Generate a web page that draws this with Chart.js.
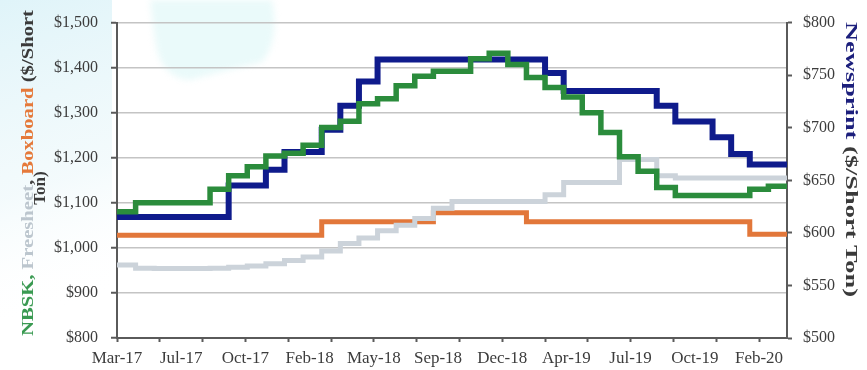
<!DOCTYPE html>
<html>
<head>
<meta charset="utf-8">
<title>NBSK, Freesheet, Boxboard and Newsprint prices</title>
<script src="https://cdn.jsdelivr.net/npm/chart.js@4.4.0/dist/chart.umd.min.js"></script>
<style>
  html, body { margin: 0; padding: 0; background: #fff; }
  #wrap { width: 867px; height: 370px; }
</style>
</head>
<body>
<div id="wrap"><canvas id="priceChart" width="867" height="370"></canvas></div>
<script>
// monthly points, Mar-17 .. Mar-20 (index = months since Mar-17)
const months = ['Mar-17', 'Apr-17', 'May-17', 'Jun-17', 'Jul-17', 'Aug-17', 'Sep-17', 'Oct-17', 'Nov-17', 'Dec-17',
    'Jan-18', 'Feb-18', 'Mar-18', 'Apr-18', 'May-18', 'Jun-18', 'Jul-18', 'Aug-18', 'Sep-18', 'Oct-18', 'Nov-18', 'Dec-18',
    'Jan-19', 'Feb-19', 'Mar-19', 'Apr-19', 'May-19', 'Jun-19', 'Jul-19', 'Aug-19', 'Sep-19', 'Oct-19', 'Nov-19', 'Dec-19',
    'Jan-20', 'Feb-20', 'Mar-20'];

const tickLabels = ['Mar-17', 'Jul-17', 'Oct-17', 'Feb-18', 'May-18', 'Sep-18', 'Dec-18', 'Apr-19', 'Jul-19', 'Oct-19', 'Feb-20'];

// left axis, $/short ton
const nbsk = [1080, 1100, 1100, 1100, 1100, 1130, 1160, 1180, 1204, 1210,
    1228, 1267, 1281, 1320, 1331, 1360, 1381, 1392, 1392, 1420, 1432, 1407,
    1378, 1356, 1335, 1300, 1256, 1202, 1170, 1134, 1116, 1116, 1116, 1116,
    1130, 1137, 1137];
const freesheet = [962, 955, 954, 954, 954, 955, 957, 960, 965, 972,
    980, 993, 1010, 1022, 1038, 1050, 1065, 1088, 1103, 1103, 1103, 1103,
    1103, 1118, 1145, 1145, 1145, 1196, 1196, 1160, 1155, 1155, 1155, 1155,
    1155, 1155, 1155];
const boxboard = [1028, 1028, 1028, 1028, 1028, 1028, 1028, 1028, 1028, 1028,
    1028, 1058, 1058, 1058, 1058, 1058, 1058, 1078, 1078, 1078, 1078, 1078,
    1058, 1058, 1058, 1058, 1058, 1058, 1058, 1058, 1058, 1058, 1058, 1058,
    1030, 1030, 1030];

// right axis, $/short ton
const newsprint = [615, 615, 615, 615, 615, 615, 645, 645, 660, 677,
    677, 698, 721, 744, 765, 765, 765, 765, 765, 765, 765, 765,
    765, 752, 735, 735, 735, 735, 735, 721, 706, 706, 691, 675,
    665, 665, 665];

const weekInMonths = 7 / 30.4375;

function toPoints(values) {
    return values.map((v, i) => ({ x: i, y: v }));
}

const labelFont = { family: 'Liberation Serif', size: 16 };
const axisColor = '#5a5a5a';
const textColor = '#3c3c3c';

// paints the pale backdrop of the original slide
const backdrop = {
    id: 'backdrop',
    beforeDraw(chart) {
        const ctx = chart.ctx;
        ctx.save();
        ctx.fillStyle = '#ffffff';
        ctx.fillRect(0, 0, chart.width, chart.height);
        const g = ctx.createLinearGradient(0, 0, 100, 300);
        g.addColorStop(0, 'rgba(218,242,248,0.85)');
        g.addColorStop(0.6, 'rgba(234,247,250,0.55)');
        g.addColorStop(1, 'rgba(255,255,255,0)');
        ctx.fillStyle = g;
        ctx.fillRect(0, 0, 112, 320);
        ctx.fillStyle = 'rgba(216,246,246,0.55)';
        ctx.filter = 'blur(3px)';
        ctx.beginPath();
        ctx.moveTo(150, 0);
        ctx.lineTo(272, 0);
        ctx.quadraticCurveTo(280, 40, 262, 62);
        ctx.quadraticCurveTo(220, 72, 190, 80);
        ctx.quadraticCurveTo(160, 78, 155, 40);
        ctx.closePath();
        ctx.fill();
        ctx.restore();
    }
};

function drawTitle(ctx, parts, x, y, angle, length, font) {
    ctx.save();
    ctx.font = font;
    ctx.textBaseline = 'alphabetic';
    ctx.textAlign = 'left';
    const total = parts.reduce((s, p) => s + ctx.measureText(p.text).width, 0);
    ctx.translate(x, y);
    ctx.rotate(angle);
    ctx.scale(length ? length / total : 1, 1);
    let pos = length ? 0 : -total / 2;
    parts.forEach(p => {
        ctx.fillStyle = p.color;
        ctx.fillText(p.text, pos, 0);
        pos += ctx.measureText(p.text).width;
    });
    ctx.restore();
}

const axisTitles = {
    id: 'axisTitles',
    afterDraw(chart) {
        const ctx = chart.ctx;
        const font = 'bold 17px "Liberation Serif"';
        drawTitle(ctx, [
            { text: 'NBSK, ', color: '#3a9a52' },
            { text: 'Freesheet', color: '#bcc6ce' },
            { text: ', ', color: '#444' },
            { text: 'Boxboard', color: '#e5793a' },
            { text: ' ($/Short', color: '#3a3a3a' }
        ], 33, 336, -Math.PI / 2, 326, font);
        drawTitle(ctx, [{ text: 'Ton)', color: '#3a3a3a' }], 45, 188, -Math.PI / 2, 0, font);
        drawTitle(ctx, [
            { text: 'Newsprint', color: '#1c1f7c' },
            { text: ' ($/Short Ton)', color: '#3a3a3a' }
        ], 846, 22, Math.PI / 2, 275, font);
    }
};

const lineStyle = {
    stepped: true,
    pointRadius: 0,
    fill: false,
    borderJoinStyle: 'miter',
    borderCapStyle: 'butt'
};

new Chart(document.getElementById('priceChart'), {
    type: 'line',
    data: {
        datasets: [
            { ...lineStyle, label: 'NBSK', data: toPoints(nbsk), borderColor: '#2b8c3c', borderWidth: 5.5, yAxisID: 'y' },
            { ...lineStyle, label: 'Newsprint', data: toPoints(newsprint), borderColor: '#0f1b8c', borderWidth: 6, yAxisID: 'y2' },
            { ...lineStyle, label: 'Freesheet', data: toPoints(freesheet), borderColor: '#ccd3da', borderWidth: 5, yAxisID: 'y' },
            { ...lineStyle, label: 'Boxboard', data: toPoints(boxboard), borderColor: '#e2773a', borderWidth: 5, yAxisID: 'y' }
        ]
    },
    options: {
        responsive: false,
        animation: false,
        events: [],
        layout: { padding: { top: 13, left: 0, right: 0, bottom: 0 } },
        plugins: {
            legend: { display: false },
            tooltip: { enabled: false },
            title: { display: false }
        },
        scales: {
            x: {
                type: 'linear',
                min: 0,
                max: months.length - 1,
                afterBuildTicks: axis => {
                    // a tick every 5 weeks: marks every 10 weeks, labels every 15 weeks
                    const ticks = [];
                    for (let k = 0; k * 5 * weekInMonths <= months.length - 1; k++) {
                        ticks.push({ value: k * 5 * weekInMonths });
                    }
                    axis.ticks = ticks;
                },
                afterFit: axis => { axis.height = 32; },
                border: { display: true, color: axisColor, width: 2 },
                grid: {
                    drawOnChartArea: false,
                    drawTicks: true,
                    tickLength: 4,
                    tickWidth: 2,
                    tickColor: ctx => (ctx.index % 2 === 0 ? axisColor : 'rgba(0,0,0,0)')
                },
                ticks: {
                    autoSkip: false,
                    maxRotation: 0,
                    padding: 6,
                    color: textColor,
                    font: { family: 'Liberation Serif', size: 17 },
                    callback: (value, index) => (index % 3 === 0 && tickLabels[index / 3]) ? tickLabels[index / 3] : ''
                }
            },
            y: {
                position: 'left',
                min: 800,
                max: 1500,
                afterFit: axis => { axis.width = 117; },
                border: { display: true, color: axisColor, width: 2 },
                grid: { color: '#c4c4c4', lineWidth: 1.5, tickColor: axisColor, tickLength: 6, tickWidth: 2 },
                ticks: {
                    stepSize: 100,
                    padding: 13,
                    color: textColor,
                    font: labelFont,
                    callback: v => '$' + v.toLocaleString('en-US')
                }
            },
            y2: {
                position: 'right',
                min: 500,
                max: 800,
                afterFit: axis => { axis.width = 80; },
                border: { display: true, color: axisColor, width: 2 },
                grid: { drawOnChartArea: false, tickColor: axisColor, tickLength: 5, tickWidth: 2 },
                ticks: {
                    stepSize: 50,
                    padding: 11,
                    color: textColor,
                    font: labelFont,
                    callback: v => '$' + v
                }
            }
        }
    },
    plugins: [backdrop, axisTitles]
});
</script>
</body>
</html>
